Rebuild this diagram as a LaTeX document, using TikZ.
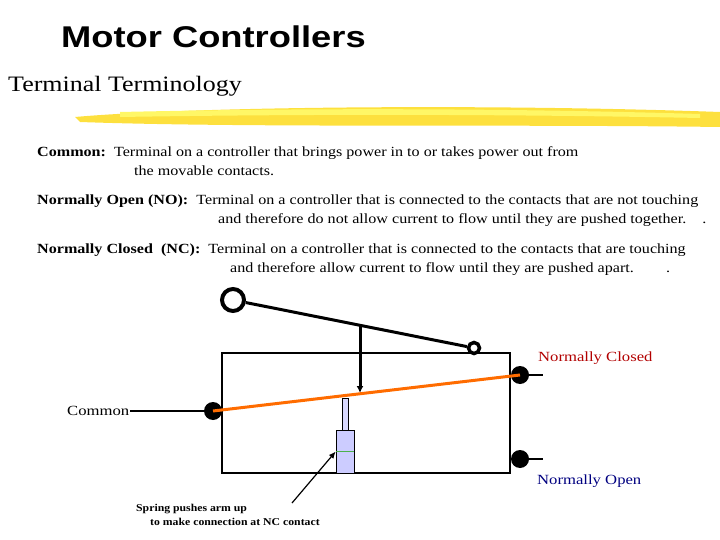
\documentclass[tikz,border=0pt]{standalone}
\usepackage{fontspec}
\usepackage{graphicx}
\setmainfont{Liberation Serif}
\newfontfamily\arialf{Liberation Sans}
\newcommand{\wideA}[2][1.15]{\scalebox{#1}[1]{#2}}
\usetikzlibrary{arrows.meta}
\begin{document}
\begin{tikzpicture}[x=1pt,y=-1pt,
  body/.style={anchor=base west,inner sep=0pt,font=\fontsize{14}{16}\selectfont},
  dot/.style={circle,fill=black,minimum size=18pt,inner sep=0pt},
  wire/.style={line width=1.2pt},
  lbl/.style={anchor=base west,inner sep=0pt,font=\fontsize{14}{16}\selectfont}]
\useasboundingbox (0,0) rectangle (720,540);
\node[anchor=base west,inner sep=0pt,font=\arialf\bfseries\fontsize{30}{34}\selectfont] (title) at (61,48) {\wideA[1.21]{Motor Controllers}};
\node[anchor=base west,inner sep=0pt,font=\fontsize{22}{26}\selectfont] (sub) at (8,92) {\wideA[1.18]{Terminal Terminology}};
\fill[yellow!75!orange!90!white, opacity=0.85] (75,117) .. controls (200,106) and (500,104) .. (720,112) -- (720,127) .. controls (500,124) and (250,128) .. (80,122) -- cycle;
\fill[yellow!60!white] (120,112) .. controls (300,108) and (500,108) .. (700,114) -- (700,118) .. controls (500,114) and (300,114) .. (120,117) -- cycle;
\node[body] (t1) at (37,157) {\wideA{\textbf{Common:}\ \ Terminal on a controller that brings power in to or takes power out from}};
\node[body] (t1b) at (134,176) {\wideA{the movable contacts.}};
\node[body] (t2) at (37,205) {\wideA{\textbf{Normally Open (NO):}\ \ Terminal on a controller that is connected to the contacts that are not touching}};
\node[body] (t2b) at (218,224) {\wideA{and therefore do not allow current to flow until they are pushed together.\quad .}};
\node[body] (t3) at (37,253) {\wideA{\textbf{Normally Closed\ \ (NC):}\ \ Terminal on a controller that is connected to the contacts that are touching}};
\node[body] (t3b) at (230,272) {\wideA{and therefore allow current to flow until they are pushed apart.\qquad .}};
% box
\node[draw,line width=1.5pt,minimum width=288pt,minimum height=120pt,inner sep=0pt] (box) at (366,413) {};
% lever
\node[circle,draw,line width=4pt,minimum size=22pt,inner sep=0pt] (big) at (233,300) {};
\node[circle,draw,line width=3.5pt,minimum size=11pt,inner sep=0pt] (small) at (474,348) {};
\draw[line width=3pt] (big) -- (small);
\coordinate (pt) at (360,324);
\coordinate (pb) at (360,393);
\draw[line width=3pt,-{Latex[length=7pt,width=7pt]}] (pt) -- (pb);
% terminals
\node[dot] (com) at (213,411) {};
\node[dot] (nc) at (520,375) {};
\node[dot] (no) at (520,459) {};
\coordinate (comw) at (130,411);
\coordinate (ncw) at (543,375);
\coordinate (now) at (543,459);
\draw[wire] (comw) -- (com);
\draw[wire] (nc) -- (ncw);
\draw[wire] (no) -- (now);
\draw[line width=3pt,orange!85!red] (com.center) -- (nc.center);
% spring
\node[draw,fill=blue!15,line width=0.6pt,minimum width=6pt,minimum height=32pt,inner sep=0pt] (rod) at (345,414) {};
\node[draw,fill=blue!20,line width=0.6pt,minimum width=18pt,minimum height=43pt,inner sep=0pt] (cyl) at (345,451.5) {};
\draw[line width=0.8pt,gray!60!green] (336,451) -- (354,451);
% labels
\node[lbl,text=red!70!black] (lnc) at (538,361) {\wideA[1.19]{Normally Closed}};
\node[lbl,text=blue!50!black] (lno) at (537,484) {\wideA[1.19]{Normally Open}};
\node[lbl] (lcom) at (67,415) {\wideA[1.19]{Common}};
\node[anchor=base west,inner sep=0pt,font=\bfseries\fontsize{10.5}{12}\selectfont] (sp1) at (136,511) {\wideA[1.12]{Spring pushes arm up}};
\node[anchor=base west,inner sep=0pt,font=\bfseries\fontsize{10.5}{12}\selectfont] (sp2) at (150,525) {\wideA[1.12]{to make connection at NC contact}};
\coordinate (arrs) at (292,503);
\draw[line width=1.2pt,-{Latex[length=7pt,width=6pt]}] (arrs) -- (cyl.west);
\end{tikzpicture}
\end{document}
